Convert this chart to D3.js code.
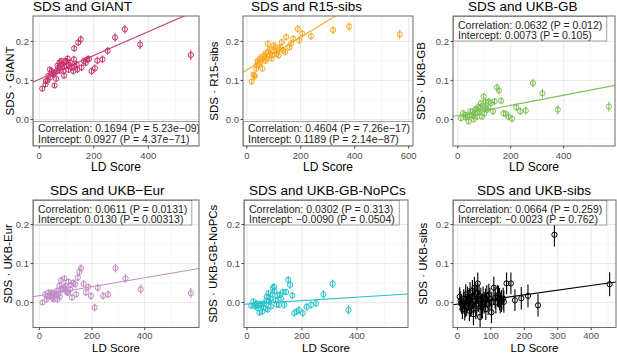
<!DOCTYPE html>
<html>
<head>
<meta charset="utf-8">
<script src="https://cdn.jsdelivr.net/npm/d3@7"></script>
<style>
  body { margin: 0; background: #fff; }
  text { font-family: "Liberation Sans", Arial, sans-serif; }
</style>
</head>
<body>
<div id="chart"></div>
<script>
// [LD score, SDS product, standard error]
const giantPts = [
  [11,0.079,0.007],[23,0.090,0.007],[24,0.098,0.007],[30,0.100,0.007],[33,0.112,0.007],[39,0.107,0.007],
  [39,0.128,0.007],[45,0.124,0.007],[48,0.118,0.007],[52,0.115,0.007],[56,0.087,0.007],[58,0.120,0.007],
  [62,0.104,0.007],[64,0.124,0.007],[67,0.138,0.007],[70,0.133,0.007],[74,0.146,0.008],[75,0.125,0.008],
  [80,0.150,0.008],[80,0.140,0.008],[86,0.141,0.008],[88,0.124,0.008],[91,0.112,0.008],[92,0.135,0.008],
  [95,0.150,0.008],[100,0.137,0.008],[100,0.148,0.008],[104,0.156,0.008],[107,0.127,0.008],[110,0.140,0.008],
  [113,0.146,0.008],[119,0.133,0.008],[125,0.124,0.009],[127,0.154,0.009],[128,0.182,0.009],[130,0.135,0.009],
  [137,0.141,0.009],[140,0.128,0.009],[143,0.197,0.009],[152,0.205,0.010],[155,0.133,0.009],[164,0.150,0.009],
  [170,0.145,0.009],[176,0.154,0.009],[182,0.155,0.009],[192,0.124,0.010],[204,0.131,0.010],[213,0.151,0.010],
  [232,0.154,0.010],[251,0.176,0.010],[278,0.210,0.011],[314,0.231,0.011],[370,0.192,0.012],[556,0.165,0.013]
];
const r15Pts = [
  [18,0.097,0.007],[25,0.115,0.007],[28,0.113,0.007],[29,0.110,0.007],[35,0.130,0.007],[37,0.138,0.007],
  [40,0.150,0.007],[43,0.147,0.007],[45,0.140,0.007],[49,0.156,0.007],[50,0.145,0.007],[55,0.160,0.007],
  [58,0.130,0.007],[60,0.155,0.007],[65,0.164,0.008],[70,0.170,0.008],[70,0.150,0.008],[74,0.156,0.008],
  [78,0.194,0.008],[80,0.173,0.008],[85,0.180,0.008],[86,0.164,0.008],[92,0.156,0.008],[95,0.165,0.008],
  [98,0.177,0.008],[100,0.190,0.008],[105,0.185,0.008],[110,0.175,0.008],[111,0.168,0.008],[117,0.164,0.008],
  [120,0.180,0.009],[123,0.185,0.009],[130,0.198,0.009],[135,0.177,0.009],[142,0.173,0.009],[146,0.211,0.009],
  [158,0.185,0.009],[164,0.194,0.009],[172,0.207,0.009],[189,0.232,0.010],[195,0.203,0.010],[206,0.220,0.010],
  [238,0.213,0.010],[320,0.229,0.011],[379,0.238,0.011],[567,0.218,0.012]
];
const ukbGbPts = [
  [12,0.003,0.007],[20,0.016,0.007],[29,0.012,0.007],[30,0.005,0.007],[35,0.007,0.007],[41,-0.005,0.007],
  [45,0.010,0.007],[48,0.021,0.007],[54,0.012,0.007],[55,0.020,0.007],[60,0.000,0.007],[60,0.008,0.007],
  [65,0.015,0.007],[66,0.025,0.007],[70,0.028,0.008],[73,0.007,0.008],[75,0.018,0.008],[79,0.033,0.008],
  [83,0.021,0.008],[85,0.030,0.008],[88,0.042,0.008],[92,0.007,0.008],[95,0.035,0.008],[98,0.059,0.008],
  [100,0.015,0.008],[104,0.029,0.008],[105,0.045,0.008],[110,0.025,0.008],[115,0.030,0.008],[117,0.046,0.009],
  [126,0.042,0.009],[133,0.021,0.009],[139,0.046,0.009],[148,0.082,0.010],[156,0.074,0.010],[164,0.048,0.009],
  [173,0.016,0.009],[182,0.014,0.009],[192,0.007,0.010],[205,0.002,0.010],[221,0.031,0.010],[236,0.021,0.010],
  [257,0.023,0.010],[284,0.093,0.011],[320,0.067,0.011],[378,0.025,0.012],[571,0.033,0.013]
];
const ukbEurPts = [
  [12,0.000,0.007],[22,0.021,0.007],[28,0.008,0.007],[31,0.015,0.007],[34,0.026,0.007],[40,0.017,0.007],
  [42,0.020,0.007],[47,0.026,0.007],[50,0.012,0.007],[54,0.008,0.007],[57,0.025,0.007],[60,0.021,0.007],
  [64,0.018,0.007],[66,0.030,0.007],[69,0.008,0.007],[73,0.022,0.008],[76,0.043,0.008],[78,0.015,0.008],
  [82,0.057,0.008],[83,0.035,0.008],[89,0.034,0.008],[94,0.040,0.008],[95,0.062,0.008],[99,0.043,0.008],
  [104,0.030,0.008],[105,0.026,0.008],[109,0.025,0.008],[111,0.053,0.008],[117,0.034,0.008],[120,0.045,0.008],
  [124,0.013,0.008],[130,0.051,0.009],[136,0.047,0.009],[140,0.021,0.009],[146,0.064,0.009],[152,0.079,0.010],
  [158,0.088,0.010],[168,0.048,0.009],[177,0.026,0.009],[186,0.040,0.009],[196,0.017,0.010],[210,-0.013,0.010],
  [222,0.038,0.010],[242,0.017,0.010],[261,0.021,0.010],[289,0.088,0.011],[327,0.062,0.011],[385,0.034,0.012],
  [575,0.024,0.013]
];
const noPcsPts = [
  [15,-0.008,0.007],[23,0.003,0.007],[29,-0.010,0.007],[30,-0.005,0.007],[35,-0.002,0.007],[40,-0.008,0.007],
  [41,-0.015,0.007],[45,-0.026,0.007],[50,-0.003,0.007],[51,-0.006,0.007],[56,-0.023,0.007],[60,-0.012,0.007],
  [63,-0.002,0.007],[68,-0.015,0.008],[70,0.005,0.008],[72,0.015,0.008],[75,-0.018,0.008],[78,0.024,0.008],
  [81,0.003,0.008],[85,0.010,0.008],[87,-0.010,0.008],[92,0.020,0.008],[94,0.037,0.008],[98,0.041,0.008],
  [100,0.030,0.008],[104,0.006,0.008],[108,-0.005,0.008],[110,0.018,0.008],[116,-0.006,0.008],[120,0.020,0.009],
  [124,0.010,0.009],[130,0.027,0.009],[136,-0.006,0.009],[142,0.027,0.009],[150,0.058,0.010],[157,0.045,0.010],
  [165,0.018,0.009],[172,-0.027,0.009],[181,-0.023,0.009],[189,-0.019,0.010],[203,-0.027,0.010],[217,-0.011,0.010],
  [233,-0.006,0.010],[251,-0.002,0.010],[278,0.021,0.011],[312,0.048,0.011],[369,-0.019,0.012]
];
const sibsPts = [
  [7,0.015,0.024],[10,0.005,0.024],[12,-0.004,0.024],[15,-0.017,0.025],[19,0.009,0.025],[20,0.000,0.025],
  [22,-0.021,0.025],[25,0.021,0.026],[25,-0.012,0.026],[28,-0.008,0.026],[30,0.015,0.026],[33,0.004,0.026],
  [35,0.010,0.027],[36,-0.021,0.027],[38,0.026,0.027],[40,-0.010,0.027],[43,-0.004,0.027],[45,0.030,0.028],
  [46,0.013,0.028],[48,-0.030,0.028],[50,0.005,0.028],[51,0.038,0.028],[55,0.021,0.028],[55,-0.015,0.028],
  [58,-0.008,0.028],[60,0.025,0.028],[61,0.049,0.028],[63,0.004,0.028],[65,0.018,0.028],[68,-0.037,0.028],
  [70,0.010,0.028],[72,-0.012,0.028],[75,-0.005,0.028],[77,0.013,0.028],[80,0.000,0.028],[84,0.008,0.028],
  [85,-0.017,0.028],[88,0.017,0.028],[92,-0.004,0.028],[94,0.020,0.028],[97,0.009,0.028],[102,-0.025,0.028],
  [103,0.000,0.028],[109,0.038,0.028],[113,0.012,0.028],[115,0.000,0.028],[120,0.017,0.028],[123,0.015,0.028],
  [126,0.009,0.028],[128,0.000,0.028],[132,0.004,0.028],[137,0.010,0.028],[139,0.002,0.028],[147,0.049,0.028],
  [160,0.049,0.028],[172,0.006,0.028],[191,0.011,0.029],[211,0.017,0.029],[241,-0.007,0.029],[290,0.174,0.030],
  [455,0.047,0.031]
];

const panelData = [giantPts, r15Pts, ukbGbPts, ukbEurPts, noPcsPts, sibsPts];
const titles = ["SDS and GIANT", "SDS and R15-sibs", "SDS and UKB-GB",
                "SDS and UKB\u2212Eur", "SDS and UKB-GB-NoPCs", "SDS and UKB-sibs"];
const yLabels = ["SDS \u00b7 GIANT", "SDS \u00b7 R15-sibs", "SDS \u00b7 UKB-GB",
                 "SDS \u00b7 UKB-Eur", "SDS \u00b7 UKB-GB-NoPCs", "SDS \u00b7 UKB-sibs"];
const colors = ["#c8336e", "#f7a823", "#7cc152", "#bf8cc4", "#27c2cd", "#000000"];
const xDomains = [[-23, 586], [-14, 616], [-18, 594], [-24, 606], [-11, 586], [-13, 474]];
const xTicks = [[0, 200, 400], [0, 200, 400, 600], [0, 200, 400], [0, 200, 400], [0, 200, 400], [0, 100, 200, 300, 400]];
const yDomains = [[-0.068, 0.265], [-0.064, 0.263]];
const yTicks = [0.0, 0.1, 0.2];
const lineIntercepts = [0.103, 0.127, 0.010, 0.0177, -0.0039, -0.0042];
const lineSlopes = [0.000305, 0.00042, 0.00013, 0.000115, 0.0000443, 0.00012];
const corrTexts = ["Correlation: 0.1694 (P = 5.23e\u221209)", "Correlation: 0.4604 (P = 7.26e\u221217)",
                   "Correlation: 0.0632 (P = 0.012)", "Correlation: 0.0611 (P = 0.0131)",
                   "Correlation: 0.0302 (P = 0.313)", "Correlation: 0.0664 (P = 0.259)"];
const interTexts = ["Intercept: 0.0927 (P = 4.37e\u221271)", "Intercept: 0.1189 (P = 2.14e\u221287)",
                    "Intercept: 0.0073 (P = 0.105)", "Intercept: 0.0130 (P = 0.00313)",
                    "Intercept: \u22120.0090 (P = 0.0504)", "Intercept: \u22120.0023 (P = 0.762)"];

// layout
const width = 617, height = 354;
const boxes = [
  {x0: 33, x1: 199, y0: 16, y1: 146, row: 0, titleX: 33, labX: 10, label: "bottom"},
  {x0: 243, x1: 413, y0: 16, y1: 146, row: 0, titleX: 251, labX: 214, label: "bottom"},
  {x0: 453, x1: 615, y0: 16, y1: 146, row: 0, titleX: 468, labX: 421, label: "top"},
  {x0: 33, x1: 199, y0: 200, y1: 327.5, row: 1, titleX: 50, labX: 8, label: "top"},
  {x0: 244, x1: 408, y0: 200, y1: 327.5, row: 1, titleX: 249, labX: 213, label: "top"},
  {x0: 453, x1: 616, y0: 200, y1: 327.5, row: 1, titleX: 477, labX: 423, label: "top"}
];

const svg = d3.select("#chart").append("svg")
    .attr("width", width)
    .attr("height", height);

function minorTicks(ticks, domain) {
    const step = ticks[1] - ticks[0];
    const out = [];
    for (let v = ticks[0] - step / 2; v <= domain[1]; v += step) {
        if (v >= domain[0]) out.push(v);
    }
    return out;
}

function drawPanel(i) {
    const b = boxes[i];
    const pts = panelData[i];
    const x = d3.scaleLinear().domain(xDomains[i]).range([b.x0, b.x1]);
    const y = d3.scaleLinear().domain(yDomains[b.row]).range([b.y1, b.y0]);
    const g = svg.append("g");

    svg.append("clipPath").attr("id", "clip" + i)
        .append("rect")
        .attr("x", b.x0).attr("y", b.y0)
        .attr("width", b.x1 - b.x0).attr("height", b.y1 - b.y0);

    const plot = g.append("g").attr("clip-path", `url(#clip${i})`);

    // grid
    const yMinor = [-0.05, 0.05, 0.15, 0.25];
    plot.selectAll(".xminor").data(minorTicks(xTicks[i], xDomains[i])).enter().append("line")
        .attr("x1", d => x(d)).attr("x2", d => x(d)).attr("y1", b.y0).attr("y2", b.y1)
        .attr("stroke", "#f2f2f2").attr("stroke-width", 0.6);
    plot.selectAll(".yminor").data(yMinor).enter().append("line")
        .attr("x1", b.x0).attr("x2", b.x1).attr("y1", d => y(d)).attr("y2", d => y(d))
        .attr("stroke", "#f2f2f2").attr("stroke-width", 0.6);
    plot.selectAll(".xmajor").data(xTicks[i]).enter().append("line")
        .attr("x1", d => x(d)).attr("x2", d => x(d)).attr("y1", b.y0).attr("y2", b.y1)
        .attr("stroke", "#e6e6e6").attr("stroke-width", 0.9);
    plot.selectAll(".ymajor").data(yTicks).enter().append("line")
        .attr("x1", b.x0).attr("x2", b.x1).attr("y1", d => y(d)).attr("y2", d => y(d))
        .attr("stroke", "#e6e6e6").attr("stroke-width", 0.9);

    // regression line
    const [d0, d1] = xDomains[i];
    plot.append("line")
        .attr("x1", x(d0)).attr("y1", y(lineIntercepts[i] + lineSlopes[i] * d0))
        .attr("x2", x(d1)).attr("y2", y(lineIntercepts[i] + lineSlopes[i] * d1))
        .attr("stroke", colors[i]).attr("stroke-width", 1.1);

    // error bars + points
    plot.selectAll(".err").data(pts).enter().append("line")
        .attr("x1", d => x(d[0])).attr("x2", d => x(d[0]))
        .attr("y1", d => y(d[1] - d[2])).attr("y2", d => y(d[1] + d[2]))
        .attr("stroke", colors[i]).attr("stroke-width", 1.1);
    plot.selectAll(".pt").data(pts).enter().append("circle")
        .attr("cx", d => x(d[0])).attr("cy", d => y(d[1])).attr("r", 2.6)
        .attr("fill", "none").attr("stroke", colors[i]).attr("stroke-width", 1);

    // stats label
    const lab = plot.append("g");
    const ly = b.label === "top" ? b.y0 + 12.5 : b.y1 - 14;
    const rect = lab.append("rect");
    const t1 = lab.append("text").attr("x", b.x0 + 5).attr("y", ly)
        .attr("font-size", "10.5px").attr("fill", "#222").text(corrTexts[i]);
    const t2 = lab.append("text").attr("x", b.x0 + 5).attr("y", ly + 10.5)
        .attr("font-size", "10.5px").attr("fill", "#222").text(interTexts[i]);
    const w = Math.max(t1.node().getComputedTextLength(), t2.node().getComputedTextLength()) + 9;
    const ry = b.label === "top" ? b.y0 : b.y1 - 25;
    rect.attr("x", b.x0 + 0.5).attr("y", ry + 0.5).attr("width", w).attr("height", 24.5)
        .attr("fill", "#fff").attr("stroke", "#8c8c8c").attr("stroke-width", 0.8);

    // panel border
    g.append("rect")
        .attr("x", b.x0).attr("y", b.y0)
        .attr("width", b.x1 - b.x0).attr("height", b.y1 - b.y0)
        .attr("fill", "none").attr("stroke", "#6b6b6b").attr("stroke-width", 1);

    // axes ticks and labels
    g.selectAll(".xt").data(xTicks[i]).enter().append("line")
        .attr("x1", d => x(d)).attr("x2", d => x(d)).attr("y1", b.y1).attr("y2", b.y1 + 2.5)
        .attr("stroke", "#444");
    g.selectAll(".xl").data(xTicks[i]).enter().append("text")
        .attr("x", d => x(d)).attr("y", b.row === 0 ? b.y1 + 12.5 : b.y1 + 11.5)
        .attr("text-anchor", "middle").attr("font-size", "9.5px").attr("fill", "#4d4d4d")
        .text(d => d);
    g.selectAll(".yt").data(yTicks).enter().append("line")
        .attr("x1", b.x0 - 2.5).attr("x2", b.x0).attr("y1", d => y(d)).attr("y2", d => y(d))
        .attr("stroke", "#444");
    g.selectAll(".yl").data(yTicks).enter().append("text")
        .attr("x", b.x0 - 4).attr("y", d => y(d)).attr("dy", "0.35em")
        .attr("text-anchor", "end").attr("font-size", "9.5px").attr("fill", "#4d4d4d")
        .text(d => d3.format(".1f")(d));

    // titles
    g.append("text")
        .attr("x", (b.x0 + b.x1) / 2).attr("y", b.row === 0 ? b.y1 + 24.5 : 352)
        .attr("text-anchor", "middle").attr("font-size", b.row === 0 ? "12px" : "11.5px").attr("fill", "#000")
        .text("LD Score");
    g.append("text")
        .attr("transform", `translate(${b.labX},${(b.y0 + b.y1) / 2}) rotate(-90)`)
        .attr("dy", "0.35em")
        .attr("text-anchor", "middle").attr("font-size", "11.5px").attr("fill", "#000")
        .text(yLabels[i]);
    g.append("text")
        .attr("x", b.titleX).attr("y", b.y0 - 5)
        .attr("font-size", "13.5px").attr("fill", "#000")
        .text(titles[i]);
}

titles.forEach((t, i) => drawPanel(i));
</script>
</body>
</html>
